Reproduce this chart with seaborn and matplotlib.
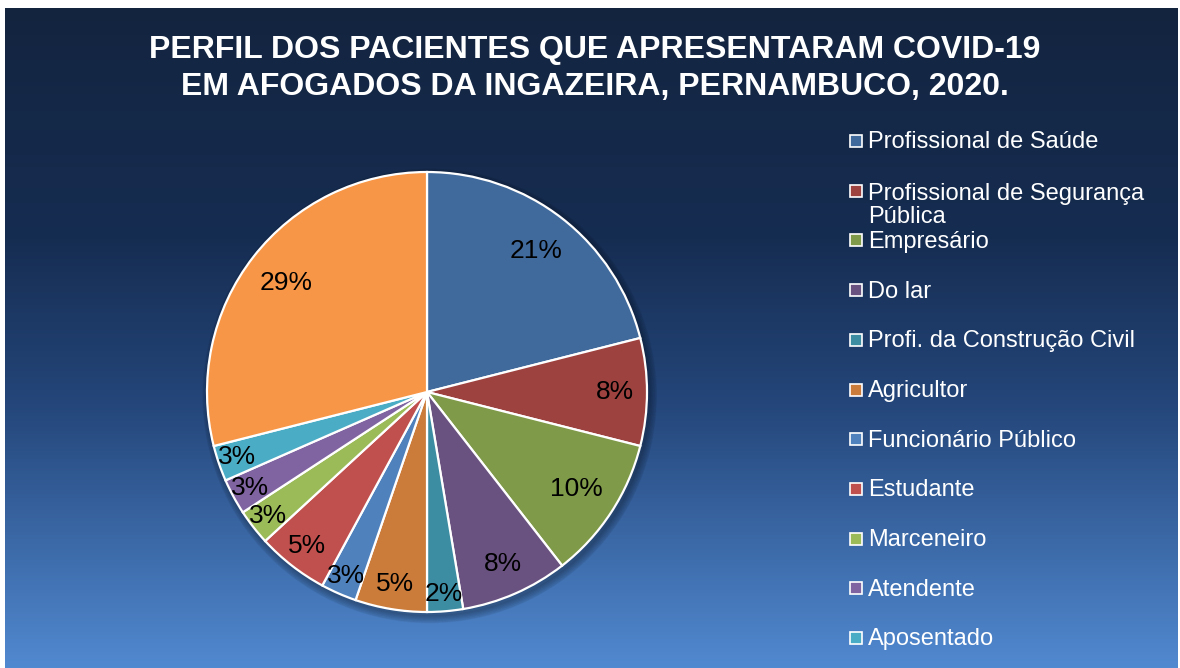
import textwrap

import numpy as np
import matplotlib
matplotlib.use("Agg")
import matplotlib.pyplot as plt
from matplotlib.colors import LinearSegmentedColormap
from matplotlib.patches import Circle, Rectangle
import seaborn as sns

# dados (numero de pacientes por ocupacao)
categorias = ["Profissional de Saúde", "Profissional de Segurança Pública",
              "Empresário", "Do lar", "Profi. da Construção Civil", "Agricultor",
              "Funcionário Público", "Estudante", "Marceneiro", "Atendente",
              "Aposentado", "Outros"]
pacientes = [8, 3, 4, 3, 1, 2, 1, 2, 1, 1, 1, 11]

cores = ["#416A9C", "#9D423F", "#7F9A49", "#69527F", "#3D8DA2", "#CB7B3A",
         "#4F81BD", "#C0504D", "#9BBB59", "#8064A2", "#4BACC6", "#F79646"]


def porcentagens(valores):
    # arredonda para somar 100 (como o Excel faz)
    bruto = np.array(valores) / sum(valores) * 100
    base = np.floor(bruto).astype(int)
    resto = bruto - base
    falta = 100 - base.sum()
    ordem = np.lexsort((-np.arange(len(resto)), -np.round(resto, 6)))
    base[ordem[:falta]] += 1
    return base


sns.set_theme(style="white")
plt.rcParams["font.family"] = ["Liberation Sans", "DejaVu Sans"]

W, H = 1180, 668
fig = plt.figure(figsize=(W / 100, H / 100), dpi=100, facecolor="white")

# fundo em degrade
bg = fig.add_axes([5 / W, 0, (W - 7) / W, (H - 8) / H])
grad = LinearSegmentedColormap.from_list(
    "fundo", [(0, "#13243F"), (0.35, "#162D52"), (0.6, "#24467A"), (1, "#5189D0")])
bg.imshow(np.linspace(0, 1, 256).reshape(-1, 1), aspect="auto", cmap=grad,
          extent=[0, 1, 0, 1], origin="upper")
bg.set_axis_off()

# pizza
cx, cy, r = 427, 392, 220
ax = fig.add_axes([(cx - r) / W, (H - cy - r) / H, 2 * r / W, 2 * r / H])

for k in range(6):
    ax.add_patch(Circle((0.012, -0.018), 1 + 0.006 * k, color="black",
                        alpha=0.05, clip_on=False, zorder=0))

wedges, _ = ax.pie(pacientes, colors=sns.color_palette(cores), startangle=90,
                   counterclock=False, radius=1,
                   wedgeprops=dict(edgecolor="white", linewidth=1.6))
for w in wedges:
    w.set_clip_on(False)
ax.set_xlim(-1, 1)
ax.set_ylim(-1, 1)
ax.set_axis_off()

pct = porcentagens(pacientes)
for w, p in zip(wedges, pct):
    ang = np.deg2rad((w.theta1 + w.theta2) / 2)
    d = np.interp(p, [2, 3, 5, 8, 10], [0.92, 0.915, 0.885, 0.855, 0.81])
    ax.text(d * np.cos(ang), d * np.sin(ang), f"{p}%", ha="center", va="center",
            fontsize=19, color="black")

# titulo
fig.text(595 / W, 1 - 68.5 / H,
         "PERFIL DOS PACIENTES QUE APRESENTARAM COVID-19\n"
         "EM AFOGADOS DA INGAZEIRA, PERNAMBUCO, 2020.",
         ha="center", va="center", fontsize=23, fontweight="bold",
         color="white", linespacing=1.33)

# legenda (so cabem 11 itens)
fs = 17
ls = 1.06
for i, (w, nome) in enumerate(zip(wedges[:11], categorias[:11])):
    yc = 141 + i * 49.7
    fig.patches.append(Rectangle((850 / W, 1 - (yc + 6) / H), 12 / W, 12 / H,
                                 transform=fig.transFigure, facecolor=w.get_facecolor(),
                                 edgecolor="white", linewidth=1.2))
    txt = textwrap.fill(nome, 26)
    extra = txt.count("\n") * ls * fs * 100 / 72
    fig.text(868 / W, 1 - (yc + 7.5 + extra) / H, txt, ha="left",
             va="baseline", fontsize=fs, color="white", linespacing=ls)

fig.savefig("out.png", dpi=100, facecolor="white")
